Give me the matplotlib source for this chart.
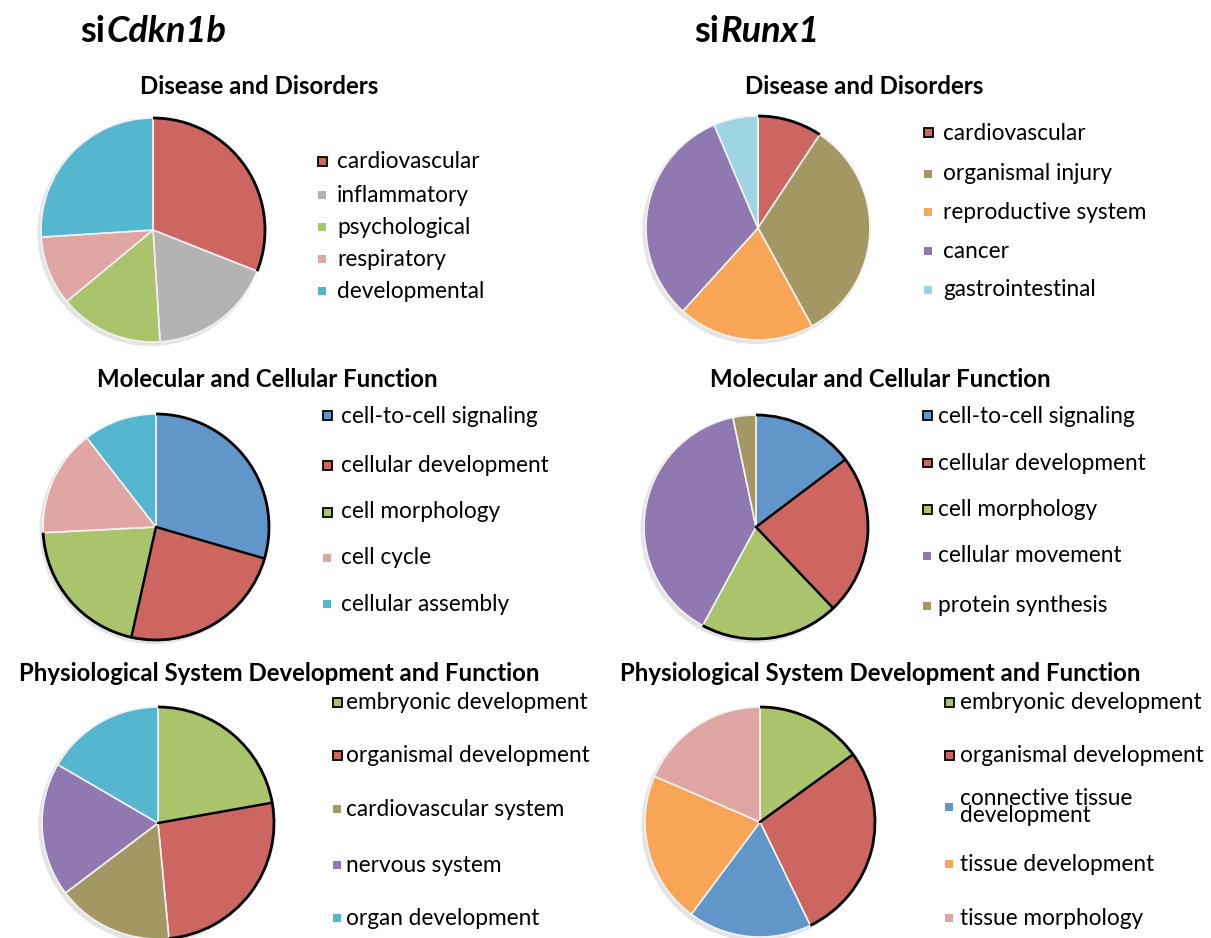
import matplotlib
matplotlib.use("Agg")
import numpy as np
import matplotlib.pyplot as plt
from matplotlib.patches import Rectangle, Arc, Circle

W, H = 1211, 938
FONT = "Lato"
plt.rcParams["font.family"] = [FONT, "DejaVu Sans"]

# colours
RED = "#CD6660"
GRAY = "#B3B3B3"
GREEN = "#AAC46B"
PINK = "#E0A6A4"
CYAN = "#55B7CF"
OLIVE = "#A39864"
ORANGE = "#F8A655"
PURPLE = "#9079B1"
LCYAN = "#9FD5E3"
BLUE = "#6096C9"

# ---- data -------------------------------------------------------------
group_titles = ["si", "Cdkn1b", "si", "Runx1"]
panel_titles = ["Disease and Disorders",
                "Molecular and Cellular Function",
                "Physiological System Development and Function"]

cdkn_disease_labels = ["cardiovascular", "inflammatory", "psychological",
                       "respiratory", "developmental"]
cdkn_disease_values = [31.0, 18.0, 15.0, 10.0, 26.0]
cdkn_disease_colors = [RED, GRAY, GREEN, PINK, CYAN]

runx_disease_labels = ["cardiovascular", "organismal injury",
                       "reproductive system", "cancer", "gastrointestinal"]
runx_disease_values = [9.3, 32.7, 19.7, 31.9, 6.4]
runx_disease_colors = [RED, OLIVE, ORANGE, PURPLE, LCYAN]

cdkn_mol_labels = ["cell-to-cell signaling", "cellular development",
                   "cell morphology", "cell cycle", "cellular assembly"]
cdkn_mol_values = [29.5, 24.0, 20.7, 15.3, 10.5]
cdkn_mol_colors = [BLUE, RED, GREEN, PINK, CYAN]

runx_mol_labels = ["cell-to-cell signaling", "cellular development",
                   "cell morphology", "cellular movement", "protein synthesis"]
runx_mol_values = [14.7, 23.2, 20.0, 38.8, 3.3]
runx_mol_colors = [BLUE, RED, GREEN, PURPLE, OLIVE]

cdkn_phys_labels = ["embryonic development", "organismal development",
                    "cardiovascular system", "nervous system",
                    "organ development"]
cdkn_phys_values = [22.2, 26.3, 16.2, 18.7, 16.6]
cdkn_phys_colors = [GREEN, RED, OLIVE, PURPLE, CYAN]

runx_phys_labels = ["embryonic development", "organismal development",
                    "connective tissue\ndevelopment", "tissue development",
                    "tissue morphology"]
runx_phys_values = [15.0, 27.8, 17.4, 21.3, 18.5]
runx_phys_colors = [GREEN, RED, BLUE, ORANGE, PINK]

fig = plt.figure(figsize=(W / 100, H / 100), dpi=100)
fig.patch.set_facecolor("white")


def fx(x):
    return x / W


def fy(y):
    return 1 - y / H


def draw_pie(cx, cy, r, values, colors, outlined):
    ax = fig.add_axes([fx(cx - r * 1.1), fy(cy + r * 1.1),
                       2.2 * r / W, 2.2 * r / H])
    ax.axis("off")
    # soft drop shadow
    ax.add_patch(Circle((-0.02, -0.025), 1.005, color="#E4E4E4", zorder=0))
    wedges, _ = ax.pie(values, colors=colors, startangle=90,
                       counterclock=False, radius=1.0,
                       wedgeprops=dict(edgecolor="#F2F2F2", linewidth=1.2))
    ax.set_xlim(-1.1, 1.1)
    ax.set_ylim(-1.1, 1.1)
    ax.set_aspect("equal")
    # highlighted slices: dark outer rim and dark borders between them
    for i in outlined:
        w = wedges[i]
        ax.add_patch(Arc((0, 0), 2.0, 2.0, theta1=w.theta1,
                         theta2=w.theta2, color="black", lw=2.0, zorder=5))
    for a, b in zip(outlined[:-1], outlined[1:]):
        ang = np.deg2rad(wedges[a].theta1)
        ax.plot([0, np.cos(ang)], [0, np.sin(ang)], color="black",
                lw=1.8, solid_capstyle="round", zorder=5)
    return ax


def draw_legend(mx, tx, ys, labels, colors, outlined, size=16.3):
    for i, (y, lab, col) in enumerate(zip(ys, labels, colors)):
        s = 9 if i in outlined else 8
        ec = "black" if i in outlined else "none"
        lw = 1.3 if i in outlined else 0
        fig.add_artist(Rectangle((fx(mx - s / 2), fy(y + s / 2)),
                                 s / W, s / H, facecolor=col, edgecolor=ec,
                                 linewidth=lw, transform=fig.transFigure))
        if "\n" in lab:
            fig.text(fx(tx), fy(y), lab, fontsize=size, va="center",
                     ha="left", linespacing=0.75)
        else:
            fig.text(fx(tx), fy(y), lab, fontsize=size, va="center",
                     ha="left")


# group headings: "si" upright, gene name italic
fig.canvas.draw()
renderer = fig.canvas.get_renderer()
for (x0, y0, pre, gene) in [(80, 32, group_titles[0], group_titles[1]),
                            (694, 32, group_titles[2], group_titles[3])]:
    t = fig.text(fx(x0), fy(y0), pre, fontsize=26, fontweight="bold",
                 va="center", ha="left")
    bb = t.get_window_extent(renderer)
    fig.text(bb.x1 / W + 0.001, fy(y0), gene, fontsize=26,
             fontweight="bold", style="italic", va="center", ha="left")

title_kw = dict(fontsize=17.3, fontweight="bold", ha="center", va="center")
fig.text(fx(259), fy(86), panel_titles[0], **title_kw)
fig.text(fx(864), fy(86), panel_titles[0], **title_kw)
fig.text(fx(267), fy(379), panel_titles[1], **title_kw)
fig.text(fx(880), fy(379), panel_titles[1], **title_kw)
fig.text(fx(279), fy(673), panel_titles[2], **title_kw)
fig.text(fx(880), fy(673), panel_titles[2], **title_kw)

# row 1
draw_pie(153, 230, 112, cdkn_disease_values, cdkn_disease_colors, [0])
draw_legend(322, 337, [162, 195, 227, 259, 291], cdkn_disease_labels,
            cdkn_disease_colors, [0])
draw_pie(758, 228, 112, runx_disease_values, runx_disease_colors, [0])
draw_legend(928, 943, [133, 174, 212, 251, 290], runx_disease_labels,
            runx_disease_colors, [0])

# row 2
draw_pie(156, 527, 113, cdkn_mol_values, cdkn_mol_colors, [0, 1, 2])
draw_legend(327, 341, [416, 465, 512, 558, 604], cdkn_mol_labels,
            cdkn_mol_colors, [0, 1, 2])
draw_pie(756, 527, 112, runx_mol_values, runx_mol_colors, [0, 1, 2])
draw_legend(927, 938, [416, 463, 509, 556, 606], runx_mol_labels,
            runx_mol_colors, [0, 1, 2])

# row 3
draw_pie(158, 823, 116, cdkn_phys_values, cdkn_phys_colors, [0, 1])
draw_legend(337, 346, [702, 755, 809, 865, 918], cdkn_phys_labels,
            cdkn_phys_colors, [0, 1])
draw_pie(760, 822, 115, runx_phys_values, runx_phys_colors, [0, 1])
draw_legend(949, 960, [702, 755, 807, 864, 918], runx_phys_labels,
            runx_phys_colors, [0, 1])

fig.savefig("out.png", dpi=100, facecolor="white")
